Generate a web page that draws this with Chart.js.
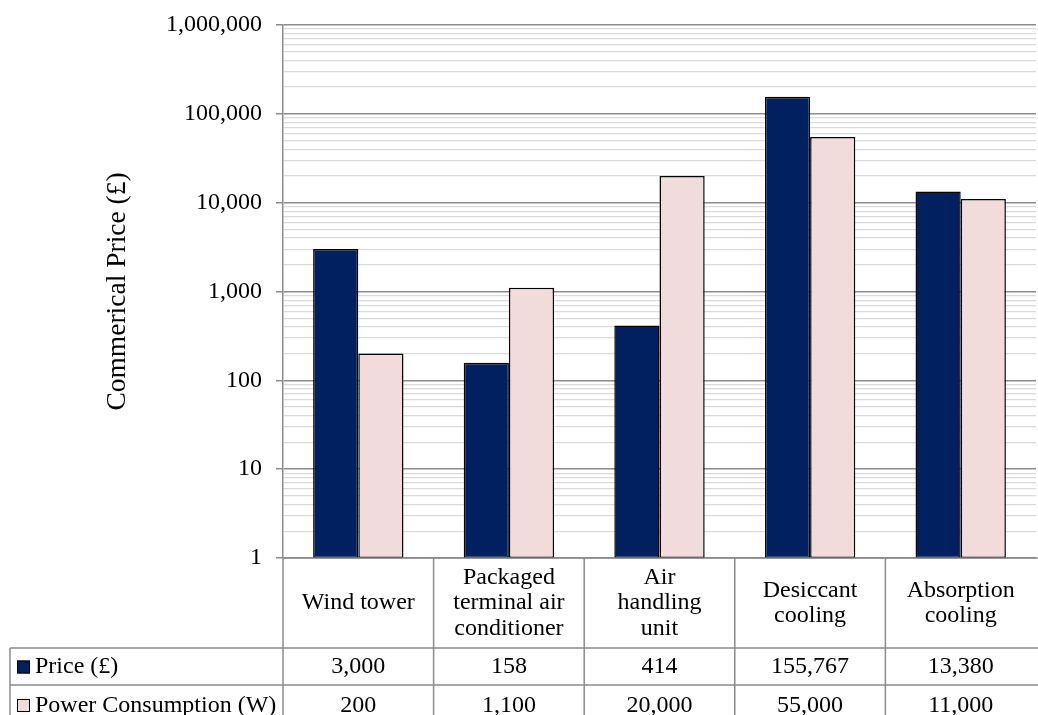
<!DOCTYPE html>
<html>
<head>
<meta charset="utf-8">
<script src="https://cdn.jsdelivr.net/npm/chart.js@4/dist/chart.umd.min.js"></script>
<style>
  html, body { margin: 0; padding: 0; background: #ffffff; }
  #wrap { width: 1038px; height: 715px; position: relative; }
</style>
</head>
<body>
<div id="wrap"><canvas id="c"></canvas></div>
<script>
// ---- data ----
const categories = [
  ["Wind tower"],
  ["Packaged", "terminal air", "conditioner"],
  ["Air", "handling", "unit"],
  ["Desiccant", "cooling"],
  ["Absorption", "cooling"]
];
const seriesNames = ["Price (\u00A3)", "Power Consumption (W)"];
const priceValues = [3000, 158, 414, 155767, 13380];
const powerValues = [200, 1100, 20000, 55000, 11000];
const yAxisTitle = "Commerical Price (\u00A3)";
const yMin = 1, yMax = 1000000;

const FONT = "'Liberation Serif', 'Times New Roman', serif";
const seriesColors = ["#002060", "#F2DCDB"];

function isDecade(v) {
  const l = Math.log10(v);
  return Math.abs(l - Math.round(l)) < 1e-9;
}

const tablePlugin = {
  id: 'dataTable',
  afterDraw(chart) {
    const ctx = chart.ctx;
    const xs = chart.scales.x;
    const area = chart.chartArea;
    const n = categories.length;
    const colW = (area.right - area.left) / n;
    const top = area.bottom;
    const headerBottom = top + 90;
    const row1Bottom = headerBottom + 37;
    const bottom = chart.height;
    const tableLeft = 10;

    ctx.save();
    ctx.strokeStyle = '#8c8c8c';
    ctx.lineWidth = 1.5;
    ctx.beginPath();
    ctx.moveTo(area.left, top); ctx.lineTo(chart.width, top);
    ctx.moveTo(tableLeft, headerBottom); ctx.lineTo(chart.width, headerBottom);
    ctx.moveTo(tableLeft, row1Bottom); ctx.lineTo(chart.width, row1Bottom);
    for (let i = 0; i < n; i++) {
      const x = area.left + i * colW;
      ctx.moveTo(x, top); ctx.lineTo(x, bottom);
    }
    ctx.moveTo(tableLeft, headerBottom); ctx.lineTo(tableLeft, bottom);
    ctx.stroke();

    ctx.fillStyle = '#000';
    ctx.font = '24px ' + FONT;
    ctx.textAlign = 'center';
    ctx.textBaseline = 'middle';
    const lh = 25.5;
    const headerMid = (top + headerBottom) / 2;
    for (let i = 0; i < n; i++) {
      const cx = xs.getPixelForValue(i);
      const lines = categories[i];
      const start = headerMid - (lines.length - 1) * lh / 2;
      lines.forEach((t, k) => ctx.fillText(t, cx, start + k * lh));
    }
    const rows = [priceValues, powerValues];
    const rowMids = [(headerBottom + row1Bottom) / 2 + 0.5, row1Bottom + 20.5];
    rows.forEach((vals, r) => {
      ctx.textAlign = 'center';
      vals.forEach((v, i) => {
        ctx.fillText(v.toLocaleString('en-US'), xs.getPixelForValue(i), rowMids[r]);
      });
      ctx.fillStyle = seriesColors[r];
      ctx.fillRect(17, rowMids[r] - 6.5, 13, 13);
      ctx.strokeStyle = '#000';
      ctx.lineWidth = 1;
      ctx.strokeRect(17.5, rowMids[r] - 6, 12, 12);
      ctx.fillStyle = '#000';
      ctx.textAlign = 'left';
      ctx.fillText(seriesNames[r], 35, rowMids[r]);
    });
    ctx.restore();
  }
};

new Chart(document.getElementById('c'), {
  type: 'bar',
  data: {
    labels: categories,
    datasets: [
      { label: seriesNames[0], data: priceValues, backgroundColor: seriesColors[0],
        borderColor: '#000', borderWidth: 1.5, borderSkipped: false },
      { label: seriesNames[1], data: powerValues, backgroundColor: seriesColors[1],
        borderColor: '#000', borderWidth: 1.5, borderSkipped: false }
    ]
  },
  options: {
    responsive: true,
    maintainAspectRatio: false,
    animation: false,
    layout: { padding: { left: 0, top: 25, right: 2, bottom: 157 } },
    datasets: { bar: { barPercentage: 1.0, categoryPercentage: 0.6 } },
    plugins: { legend: { display: false }, tooltip: { enabled: false } },
    scales: {
      x: { type: 'category', display: false, offset: true, grid: { display: false } },
      y: {
        type: 'logarithmic',
        min: yMin,
        max: yMax,
        afterBuildTicks(scale) {
          const t = [];
          for (let e = 0; e < 6; e++) {
            for (let s = 1; s <= 9; s++) t.push({ value: s * Math.pow(10, e) });
          }
          t.push({ value: yMax });
          scale.ticks = t;
        },
        afterFit(scale) { scale.width = 283; scale.paddingTop = 0; },
        ticks: {
          autoSkip: false,
          padding: 14,
          color: '#000',
          font: { family: FONT, size: 24, lineHeight: 0.9 },
          callback(v) { return isDecade(v) ? Number(v).toLocaleString('en-US') : ''; }
        },
        grid: {
          color: (c) => (c.tick && isDecade(c.tick.value)) ? '#8c8c8c' : '#dadada',
          lineWidth: (c) => (c.tick && isDecade(c.tick.value)) ? 1.5 : 1.2,
          tickColor: (c) => (c.tick && isDecade(c.tick.value)) ? '#8c8c8c' : 'rgba(0,0,0,0)',
          tickLength: 7
        },
        border: { color: '#8c8c8c', width: 1.5 },
        title: {
          display: true,
          text: yAxisTitle,
          color: '#000',
          font: { family: FONT, size: 27.5 },
          padding: { top: 101.5, bottom: 0 }
        }
      }
    }
  },
  plugins: [tablePlugin]
});
</script>
</body>
</html>
